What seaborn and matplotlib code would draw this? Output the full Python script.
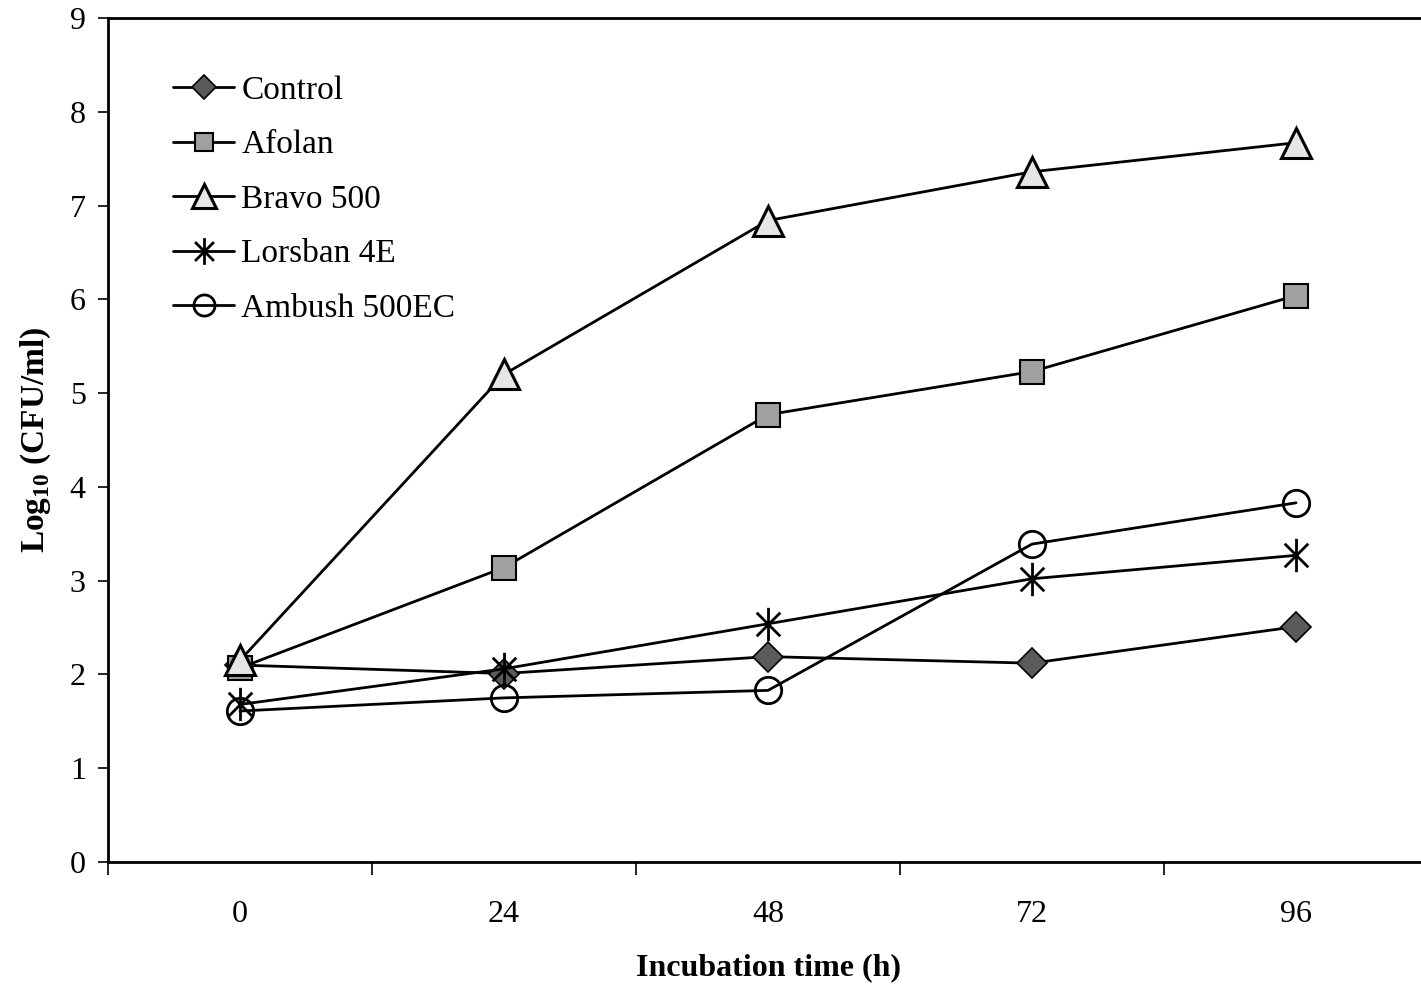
import numpy as np
import pandas as pd
import matplotlib
matplotlib.use("Agg")
import matplotlib.pyplot as plt
from matplotlib.path import Path
import seaborn as sns

times = ["0", "24", "48", "72", "96"]
control = [2.10, 2.01, 2.19, 2.12, 2.51]
afolan = [2.07, 3.14, 4.77, 5.23, 6.04]
bravo = [2.15, 5.20, 6.84, 7.36, 7.67]
lorsban = [1.68, 2.06, 2.54, 3.02, 3.27]
ambush = [1.61, 1.75, 1.83, 3.39, 3.83]
series_names = ["Control", "Afolan", "Bravo 500", "Lorsban 4E", "Ambush 500EC"]

sns.set_style("white")
plt.rcParams['font.family'] = ['Liberation Serif', 'DejaVu Serif']
plt.rcParams['mathtext.fontset'] = 'custom'
plt.rcParams['mathtext.rm'] = 'Liberation Serif'
plt.rcParams['mathtext.bf'] = 'Liberation Serif:bold'
plt.rcParams['text.color'] = 'black'
plt.rcParams['axes.labelcolor'] = 'black'
plt.rcParams['xtick.color'] = 'black'
plt.rcParams['ytick.color'] = 'black'

d = np.sqrt(0.5)
asterisk = Path([(0, -1), (0, 1), (-d, -d), (d, d), (-d, d), (d, -d)],
                [Path.MOVETO, Path.LINETO, Path.MOVETO, Path.LINETO, Path.MOVETO, Path.LINETO])

styles = {
    "Control": dict(marker="D", markersize=15, markerfacecolor="#5a5a5a", markeredgecolor="black", markeredgewidth=1.2),
    "Afolan": dict(marker="s", markersize=17, markerfacecolor="#a0a0a0", markeredgecolor="black", markeredgewidth=1.5),
    "Bravo 500": dict(marker="^", markersize=22, markerfacecolor="#e6e6e6", markeredgecolor="black", markeredgewidth=2.2),
    "Lorsban 4E": dict(marker=asterisk, markersize=24, markerfacecolor="none", markeredgecolor="black", markeredgewidth=2.0),
    "Ambush 500EC": dict(marker="o", markersize=19, markerfacecolor="none", markeredgecolor="black", markeredgewidth=2.0),
}

data = {"Control": control, "Afolan": afolan, "Bravo 500": bravo,
        "Lorsban 4E": lorsban, "Ambush 500EC": ambush}

fig = plt.figure(figsize=(14.21, 9.86), dpi=100)
ax = fig.add_axes([108/1421, 1 - 862/986, (1428-108)/1421, (862-18)/986])

xpos = np.arange(len(times))
for name in series_names:
    df = pd.DataFrame({"x": xpos, "y": data[name]})
    sns.lineplot(data=df, x="x", y="y", ax=ax, color="black", linewidth=2.0,
                 label=name, **styles[name])

ax.set_xlim(-0.5, 4.5)
ax.set_ylim(0, 9)
ax.set_yticks(range(0, 10))
ax.set_yticklabels([str(i) for i in range(0, 10)], fontsize=23)
ax.set_xticks(np.arange(-0.5, 5.0, 1.0))
ax.set_xticklabels([])
ax.set_xticks(xpos, minor=True)
ax.set_xticklabels(times, minor=True, fontsize=23)
ax.tick_params(axis='x', which='major', direction='out', length=9, width=1.2, color='black', bottom=True)
ax.tick_params(axis='x', which='minor', length=0, pad=27, labelcolor='black')
ax.tick_params(axis='y', which='major', direction='out', length=7, width=1.2, color='black', left=True, pad=9, labelcolor='black')

for s in ax.spines.values():
    s.set_color("black")
    s.set_linewidth(2.0)

ax.set_xlabel("Incubation time (h)", fontsize=23, fontweight="bold", labelpad=18, color="black")
ax.set_ylabel(r"Log$_{\mathbf{10}}$ (CFU/ml)", fontsize=24, fontweight="bold", labelpad=12, color="black")

leg = ax.legend(loc="upper left", bbox_to_anchor=(0.039, 0.948), frameon=False,
                fontsize=24, handlelength=1.85, handletextpad=0.2, labelspacing=0.72,
                borderaxespad=0, markerscale=0.8, labelcolor="black")

fig.savefig("out.png", dpi=100)
